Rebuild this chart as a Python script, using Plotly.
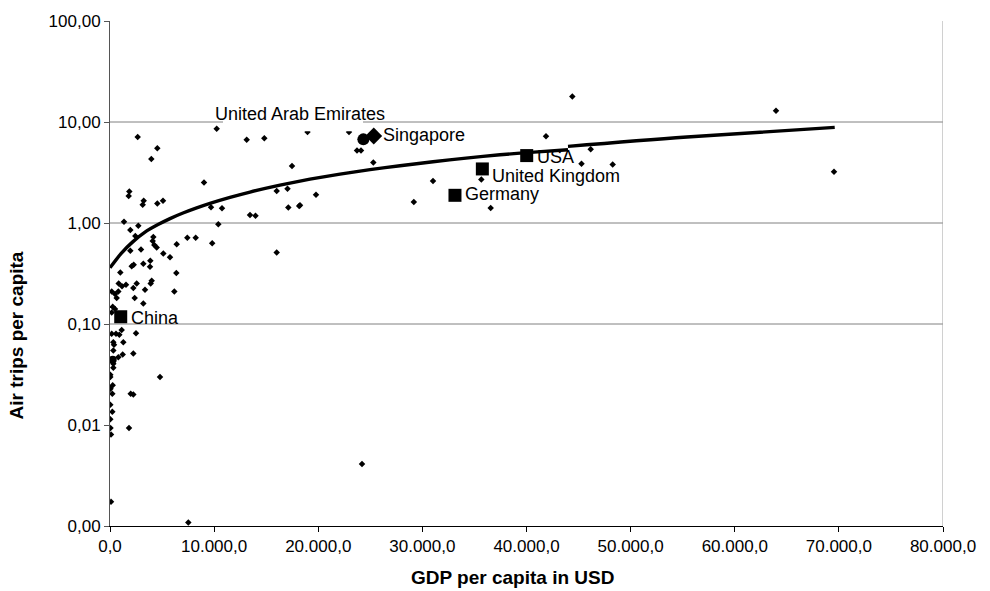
import numpy as np
import plotly.graph_objects as go

# ---- data ----
gdp = [2660, 4543, 3966, 1854, 1796, 3237, 3141, 4543, 5090, 1345,
       2718, 1950, 2430, 4158, 4101, 4255, 4485, 2977, 1950, 6406,
       5119, 5762, 2276, 2084, 3198, 3870, 3842, 989, 6367, 4005,
       3909, 836, 1152, 1537, 2564, 2238, 3361, 6175, 163, 480,
       797, 643, 2372, 3198, 259, 480, 163, 163, 576, 893,
       1124, 2497, 317, 384, 1277, 317, 797, 1220, 2238, 317,
       317, 4802, 30, 30, 259, 48, 221, 1988, 2238, 30,
       221, 30, 48, 96, 1825, 96, 7520, 24202, 10247, 13129,
       14819, 18968, 22954, 9028, 17479, 16010, 17047, 9700, 10756, 17124,
       18171, 13446, 13974, 10401, 7424, 8231, 9815, 16010, 23722, 24106,
       25287, 19784, 18248, 29177, 31021, 35660, 36562, 41873, 44399, 46166,
       45283, 48279, 63963, 69533]
trips = [7.10, 5.49, 4.31, 2.05, 1.85, 1.66, 1.52, 1.56, 1.66, 1.03,
         0.94, 0.853, 0.744, 0.727, 0.665, 0.607, 0.571, 0.545, 0.530, 0.617,
         0.498, 0.459, 0.385, 0.374, 0.394, 0.422, 0.368, 0.324, 0.319, 0.268,
         0.252, 0.252, 0.237, 0.245, 0.252, 0.227, 0.218, 0.210, 0.210, 0.198,
         0.210, 0.181, 0.181, 0.160, 0.148, 0.141, 0.130, 0.0799, 0.0799, 0.0781,
         0.0874, 0.0810, 0.0660, 0.0622, 0.0660, 0.0547, 0.0469, 0.0499, 0.0511, 0.0404,
         0.0369, 0.0298, 0.0315, 0.0298, 0.0247, 0.0229, 0.0204, 0.0204, 0.0201, 0.0159,
         0.0135, 0.0114, 0.00936, 0.00806, 0.00936, 0.00174, 0.00108, 0.00411, 8.55, 6.69,
         6.89, 7.95, 7.95, 2.52, 3.66, 2.08, 2.18, 1.43, 1.40, 1.42,
         1.47, 1.20, 1.18, 0.971, 0.715, 0.716, 0.631, 0.509, 5.21, 5.21,
         3.97, 1.90, 1.50, 1.61, 2.61, 2.70, 1.41, 7.21, 17.9, 5.37,
         3.86, 3.79, 12.9, 3.21]

sq_names = ["China", "Germany", "United Kingdom", "USA"]
sq_gdp = [1030, 33130, 35760, 40020]
sq_trips = [0.118, 1.88, 3.43, 4.65]

uae_gdp, uae_trips = [24330], [6.73]
sgp_gdp, sgp_trips = [25330], [7.26]
dot_gdp, dot_trips = [259], [0.0443]

trend_a_gdp = [0, 1056, 2209, 3361, 4610, 5762, 7011, 8259, 9604, 11525, 13446,
               16327, 19208, 22090, 24971, 27852, 31021, 34190, 37455, 40721, 43986]
trend_a_trips = [0.360, 0.498, 0.654, 0.813, 0.964, 1.105, 1.255, 1.403, 1.564, 1.793, 2.026,
                 2.371, 2.716, 3.050, 3.378, 3.690, 4.042, 4.385, 4.737, 5.038, 5.318]
trend_b_gdp = [43986, 55415, 69600]
trend_b_trips = [5.74, 7.10, 8.85]

x_ticks = [0, 10000, 20000, 30000, 40000, 50000, 60000, 70000, 80000]
x_ticktext = ["0,0", "10.000,0", "20.000,0", "30.000,0", "40.000,0",
              "50.000,0", "60.000,0", "70.000,0", "80.000,0"]
y_ticks = [0.001, 0.01, 0.1, 1, 10, 100]
y_ticktext = ["0,00", "0,01", "0,10", "1,00", "10,00", "100,00"]
grid_vals = [0.1, 1, 10]

FONT = "Liberation Sans, Arial, sans-serif"

fig = go.Figure()
fig.add_trace(go.Scatter(x=gdp, y=trips, mode="markers",
                         marker=dict(symbol="diamond", size=5, color="black"),
                         showlegend=False, hoverinfo="skip"))
fig.add_trace(go.Scatter(x=dot_gdp, y=dot_trips, mode="markers",
                         marker=dict(symbol="circle", size=8, color="black"), showlegend=False))
fig.add_trace(go.Scatter(x=trend_a_gdp, y=trend_a_trips, mode="lines",
                         line=dict(color="black", width=3.4, shape="spline", smoothing=0.6),
                         showlegend=False))
fig.add_trace(go.Scatter(x=trend_b_gdp, y=trend_b_trips, mode="lines",
                         line=dict(color="black", width=3.4, shape="spline"), showlegend=False))
fig.add_trace(go.Scatter(x=sq_gdp, y=sq_trips, mode="markers",
                         marker=dict(symbol="square", size=13, color="black"), showlegend=False))
fig.add_trace(go.Scatter(x=uae_gdp, y=uae_trips, mode="markers",
                         marker=dict(symbol="circle", size=12, color="black"), showlegend=False))
fig.add_trace(go.Scatter(x=sgp_gdp, y=sgp_trips, mode="markers",
                         marker=dict(symbol="diamond", size=13, color="black"), showlegend=False))

# gridlines and right border
for g in grid_vals:
    fig.add_shape(type="line", xref="x", yref="y", x0=0, x1=80000, y0=g, y1=g,
                  line=dict(color="#808080", width=1), layer="below")
fig.add_shape(type="line", xref="x", yref="y", x0=80000, x1=80000, y0=0.001, y1=100,
              line=dict(color="#a0a0a0", width=1), layer="below")
# white background of the UAE label
fig.add_shape(type="rect", xref="x", yref="y", x0=10850, x1=24300, y0=8.08, y1=13.3,
              fillcolor="white", line=dict(width=0), layer="above")

lab_font = dict(family=FONT, size=18, color="black")
def label(x, y, text, xshift, yshift=0, anchor="left"):
    fig.add_annotation(x=x, y=np.log10(y), xref="x", yref="y", text=text, showarrow=False,
                       xanchor=anchor, yanchor="middle", xshift=xshift, yshift=yshift,
                       font=lab_font, borderpad=0)

for n, gx, gy in zip(sq_names, sq_gdp, sq_trips):
    dy = {"China": -1, "Germany": 1, "United Kingdom": -7, "USA": -1}[n]
    label(gx, gy, n, 9, dy)
label(sgp_gdp[0], sgp_trips[0], "Singapore", 8, 1)
label(uae_gdp[0], uae_trips[0], "United Arab Emirates", -63, 25, anchor="center")

fig.add_annotation(x=0.4826, y=-0.1026, xref="paper", yref="paper", showarrow=False,
                   text="<b>GDP per capita in USD</b>", font=dict(family=FONT, size=19, color="black"),
                   xanchor="center", yanchor="middle")
fig.add_annotation(x=-0.112, y=0.3767, xref="paper", yref="paper", showarrow=False, textangle=-90,
                   text="<b>Air trips per capita</b>", font=dict(family=FONT, size=19, color="black"),
                   xanchor="center", yanchor="middle")

fig.update_layout(
    width=990, height=591, autosize=False,
    margin=dict(l=110, r=47, t=19, b=65),
    paper_bgcolor="white", plot_bgcolor="white",
    font=dict(family=FONT, color="black"),
    xaxis=dict(range=[0, 80000], tickvals=x_ticks, ticktext=x_ticktext, ticks="outside",
               ticklen=5, tickcolor="black", showline=True, linecolor="black", linewidth=1,
               showgrid=False, zeroline=False, tickfont=dict(family=FONT, size=17, color="black")),
    yaxis=dict(type="log", range=[-3, 2], tickvals=y_ticks, ticktext=y_ticktext, ticks="outside",
               ticklen=5, tickcolor="#555", showline=True, linecolor="#555", linewidth=1,
               showgrid=False, zeroline=False, tickfont=dict(family=FONT, size=17, color="black")),
)

fig.write_html("out.html")
